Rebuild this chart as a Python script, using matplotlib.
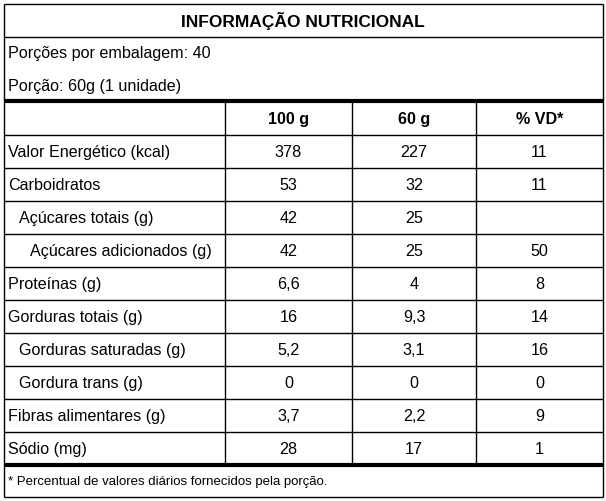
import matplotlib
matplotlib.use("Agg")
import matplotlib.pyplot as plt

plt.rcParams["font.family"] = "Liberation Sans"

TITLE = "INFORMAÇÃO NUTRICIONAL"
SERVINGS = ["Porções por embalagem: 40", "Porção: 60g (1 unidade)"]
HEADERS = ["100 g", "60 g", "% VD*"]
NUTRIENTS = ["Valor Energético (kcal)", "Carboidratos", "Açúcares totais (g)",
             "Açúcares adicionados (g)", "Proteínas (g)", "Gorduras totais (g)",
             "Gorduras saturadas (g)", "Gordura trans (g)",
             "Fibras alimentares (g)", "Sódio (mg)"]
INDENT = [0, 0, 1, 2, 0, 0, 1, 1, 0, 0]
PER_100G = ["378", "53", "42", "42", "6,6", "16", "5,2", "0", "3,7", "28"]
PER_60G = ["227", "32", "25", "25", "4", "9,3", "3,1", "0", "2,2", "17"]
VD = ["11", "11", "", "50", "8", "14", "16", "0", "9", "1"]
FOOTNOTE = "* Percentual de valores diários fornecidos pela porção."

FS = 11.6

fig = plt.figure(figsize=(6.06, 5.01), dpi=100)
ax = fig.add_axes([0, 0, 1, 1])
ax.set_xlim(0, 606)
ax.set_ylim(501, 0)
ax.axis("off")

L, R, T, B = 3.5, 603, 3.5, 497
cols = [225, 352, 476, R]
row_h = 33
head_top = 101
data_top = 135

def hline(y, lw=1, x0=L, x1=R):
    ax.plot([x0, x1], [y, y], color="black", lw=lw, solid_capstyle="butt")

def vline(x, y0, y1, lw=1):
    ax.plot([x, x], [y0, y1], color="black", lw=lw, solid_capstyle="butt")

# outer frame
hline(T); hline(B); vline(L, T, B); vline(R, T, B)

ax.text((L + R) / 2, 21, TITLE, ha="center", va="center", fontsize=12.5, fontweight="bold")
hline(37)
ax.text(8, 53, SERVINGS[0], ha="left", va="center", fontsize=FS)
ax.text(8, 86, SERVINGS[1], ha="left", va="center", fontsize=FS)
hline(head_top, lw=3)

n = len(NUTRIENTS)
bottom = data_top + n * row_h
for c in cols[:-1]:
    vline(c, head_top, bottom)

centers = [(cols[i] + cols[i + 1]) / 2 for i in range(3)]
for cx, h in zip(centers, HEADERS):
    ax.text(cx, (head_top + data_top) / 2 + 1, h, ha="center", va="center",
            fontsize=FS, fontweight="bold")
hline(data_top)

for i, name in enumerate(NUTRIENTS):
    yc = data_top + i * row_h + row_h / 2 + 1
    ax.text(8 + 11 * INDENT[i], yc, name, ha="left", va="center", fontsize=FS)
    for cx, v in zip(centers, [PER_100G[i], PER_60G[i], VD[i]]):
        ax.text(cx, yc, v, ha="center", va="center", fontsize=FS)
    if i < n - 1:
        hline(data_top + (i + 1) * row_h)

hline(bottom, lw=3)
ax.text(8, (bottom + B) / 2 + 1, FOOTNOTE, ha="left", va="center", fontsize=9.5)

fig.savefig("out.png", dpi=100, facecolor="white")
